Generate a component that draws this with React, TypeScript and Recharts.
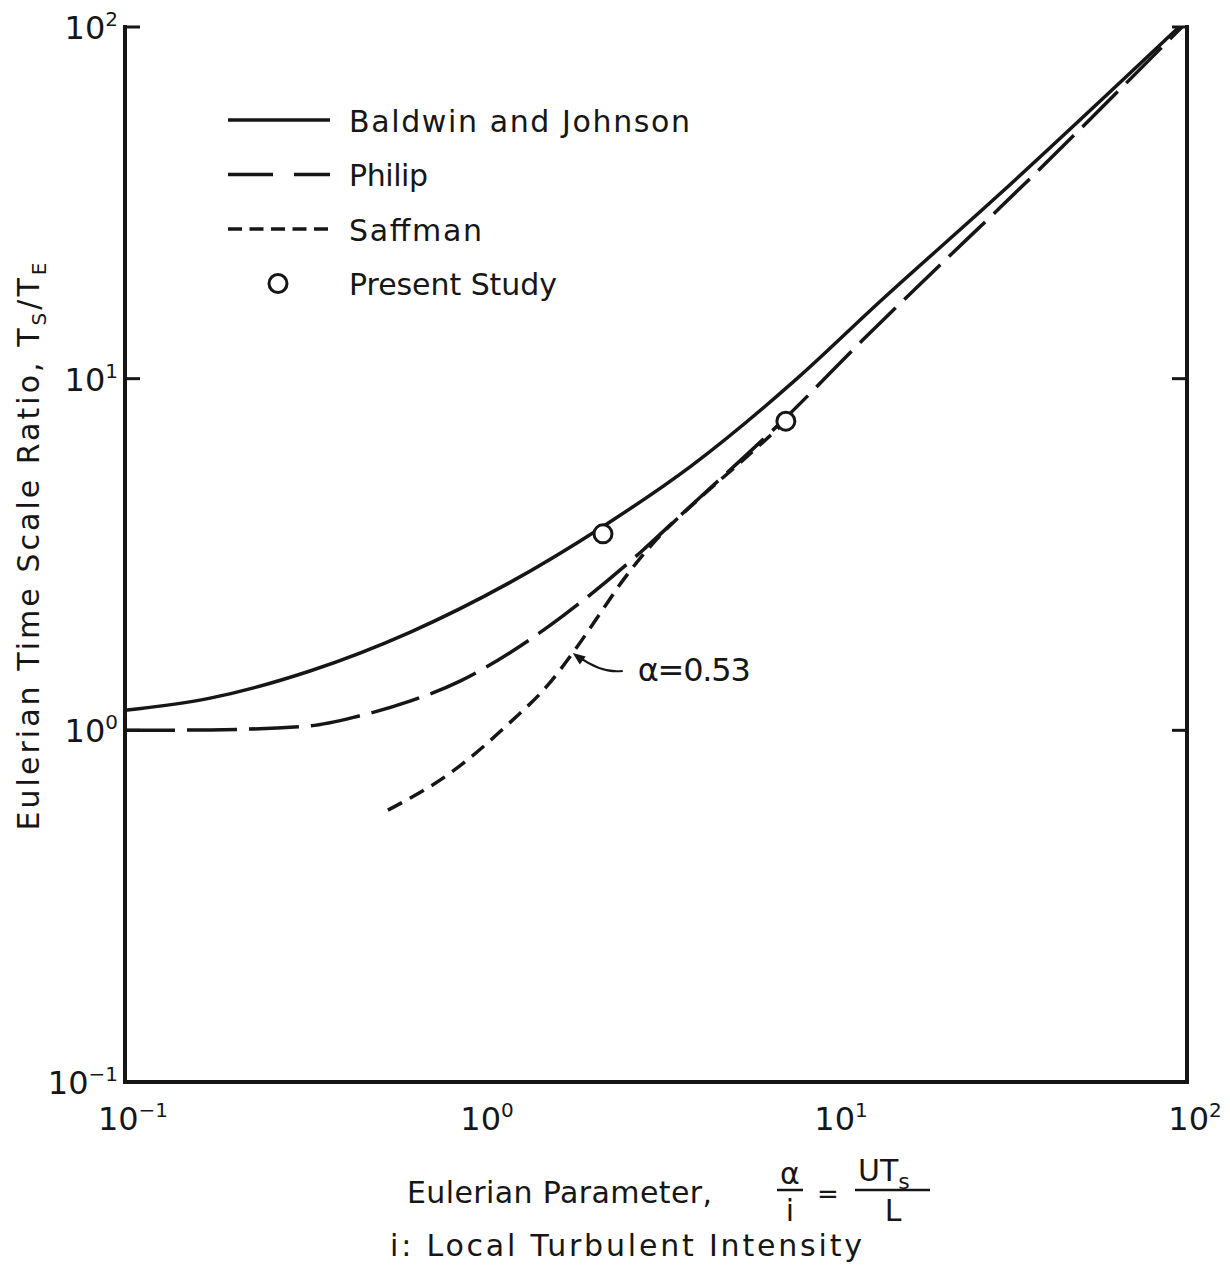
import React from "react";
import {
  ComposedChart,
  Line,
  Scatter,
  XAxis,
  YAxis,
  Legend,
  Label,
  ReferenceDot,
} from "recharts";

const INK = "#161616";
const FONT = "'DejaVu Sans', sans-serif";

// log-log decades shared by both axes
const decadeTicks = [0.1, 1, 10, 100];
const decadeLabels = ["\u22121", "0", "1", "2"];

// Baldwin and Johnson
const baldwinX = [0.1, 0.174, 0.333, 0.638, 1.22, 2.24, 3.98, 7.91, 13.6, 29.1, 95];
const baldwinY = [1.14, 1.235, 1.475, 1.9, 2.63, 3.8, 5.65, 10.0, 16.6, 33.0, 100];

// Philip
const philipX = [0.1, 0.174, 0.333, 0.461, 0.638, 0.884, 1.22, 1.73, 2.85, 3.77, 7.36, 12.15, 21.0, 29.6, 96.8];
const philipY = [1.0, 1.003, 1.03, 1.1, 1.21, 1.38, 1.66, 2.12, 3.2, 4.15, 7.75, 12.9, 22.0, 30.6, 100];

// Saffman, alpha = 0.53
const saffmanX = [0.553, 0.828, 1.22, 1.56, 1.84, 2.15, 2.55, 3.18, 4.13, 5.71, 7.3];
const saffmanY = [0.593, 0.755, 1.05, 1.34, 1.66, 2.08, 2.67, 3.5, 4.5, 6.0, 7.5];

// present study measurements
const studyX = [2.24, 7.36];
const studyY = [3.62, 7.57];

// index on the Saffman curve the alpha note points at
const ALPHA_AT = 4;

const zip = (xs: number[], ys: number[]) => xs.map((x, i) => ({ x, y: ys[i] }));

const baldwin = zip(baldwinX, baldwinY);
const philip = zip(philipX, philipY);
const saffman = zip(saffmanX, saffmanY);
const study = zip(studyX, studyY);

const decadeLabel = (v: number) => decadeLabels[decadeTicks.indexOf(v)] ?? "";

const LeftTick = (props: any) => {
  const { x, y, payload } = props;
  return (
    <g>
      <line x1={x} x2={x + 15} y1={y} y2={y} stroke={INK} strokeWidth={3} />
      <text x={x - 7} y={y + 12} textAnchor="end" fontFamily={FONT} fontSize={32} fill={INK}>
        10
        <tspan dy={-13} fontSize={20}>
          {decadeLabel(payload.value)}
        </tspan>
      </text>
    </g>
  );
};

const RightTick = (props: any) => {
  const { x, y } = props;
  return <line x1={x} x2={x - 15} y1={y} y2={y} stroke={INK} strokeWidth={3} />;
};

const BottomTick = (props: any) => {
  const { x, y, payload } = props;
  return (
    <text x={x + 8} y={y + 48} textAnchor="middle" fontFamily={FONT} fontSize={32} fill={INK}>
      10
      <tspan dy={-13} fontSize={20}>
        {decadeLabel(payload.value)}
      </tspan>
    </text>
  );
};

const YTitle = (props: any) => {
  const vb = props.viewBox;
  const cx = vb.x + 31;
  const cy = vb.y + vb.height / 2 - 8;
  return (
    <text
      x={cx}
      y={cy}
      transform={`rotate(-90 ${cx} ${cy})`}
      textAnchor="middle"
      fontFamily={FONT}
      fontSize={30}
      fill={INK}
      textLength={568}
      lengthAdjust="spacing"
    >
      Eulerian Time Scale Ratio, T
      <tspan dy={7} fontSize={20}>S</tspan>
      <tspan dy={-7}>/T</tspan>
      <tspan dy={7} fontSize={20}>E</tspan>
    </text>
  );
};

const XTitle = (props: any) => {
  const vb = props.viewBox;
  const x0 = vb.x;
  const y0 = vb.y;
  const txt = { fontFamily: FONT, fill: INK } as const;
  return (
    <g>
      <text x={x0 + 282} y={y0 + 121} fontSize={30} textLength={305} lengthAdjust="spacing" {...txt}>
        Eulerian Parameter,
      </text>
      {/* alpha / i */}
      <text x={x0 + 665} y={y0 + 102} fontSize={30} textAnchor="middle" {...txt}>α</text>
      <line x1={x0 + 652} x2={x0 + 678} y1={y0 + 108} y2={y0 + 108} stroke={INK} strokeWidth={2.5} />
      <text x={x0 + 665} y={y0 + 139} fontSize={30} textAnchor="middle" {...txt}>i</text>
      <text x={x0 + 703} y={y0 + 121} fontSize={26} textAnchor="middle" {...txt}>=</text>
      {/* U T_s / L */}
      <text x={x0 + 733} y={y0 + 99} fontSize={30} {...txt}>
        UT
        <tspan dy={8} fontSize={22}>s</tspan>
      </text>
      <line x1={x0 + 730} x2={x0 + 805} y1={y0 + 108} y2={y0 + 108} stroke={INK} strokeWidth={2.5} />
      <text x={x0 + 768} y={y0 + 139} fontSize={30} textAnchor="middle" {...txt}>L</text>
      <text x={x0 + 265} y={y0 + 174} fontSize={30} textLength={472} lengthAdjust="spacing" {...txt}>
        i:  Local Turbulent Intensity
      </text>
    </g>
  );
};

const AlphaNote = (props: any) => {
  const { cx, cy } = props;
  return (
    <g transform={`translate(${cx} ${cy})`}>
      <path d="M 50 18 C 36 20 20 14 6 4" fill="none" stroke={INK} strokeWidth={2} />
      <polygon points="0,0 13,3.5 7,11.5" fill={INK} />
      <text x={65} y={28} fontFamily={FONT} fontSize={32} fill={INK} textLength={113} lengthAdjust="spacing">
        α=0.53
      </text>
    </g>
  );
};

const legendItems = [
  { name: "Baldwin and Johnson", dash: undefined as string | undefined, width: 341 },
  { name: "Philip", dash: "45 21", width: 79 },
  { name: "Saffman", dash: "14 7.5", width: 133 },
  { name: "Present Study", dash: "marker", width: 208 },
];

const KeyBox = () => (
  <svg width={490} height={215}>
    {legendItems.map((item, i) => {
      const y = 25 + i * 54.5;
      return (
        <g key={item.name}>
          {item.dash === "marker" ? (
            <circle cx={58} cy={y} r={9} fill="#fff" stroke={INK} strokeWidth={3} />
          ) : (
            <line x1={8} x2={110} y1={y} y2={y} stroke={INK} strokeWidth={3.5} strokeDasharray={item.dash} />
          )}
          <text
            x={129}
            y={y + 11.5}
            fontFamily={FONT}
            fontSize={30}
            fill={INK}
            textLength={item.width}
            lengthAdjust="spacing"
          >
            {item.name}
          </text>
        </g>
      );
    })}
  </svg>
);

const frameLine = { stroke: INK, strokeWidth: 4, strokeLinecap: "square" as const };

export default function App() {
  return (
    <div style={{ width: 1214, height: 1257, background: "#fff" }}>
      <ComposedChart width={1214} height={1257} margin={{ top: 19, right: 0, bottom: 43, left: 0 }}>
        <XAxis
          dataKey="x"
          type="number"
          scale="log"
          domain={[0.1, 100]}
          allowDataOverflow
          ticks={decadeTicks}
          interval={0}
          tick={<BottomTick />}
          tickLine={false}
          tickSize={0}
          tickMargin={0}
          height={140}
          axisLine={frameLine}
        >
          <Label content={XTitle} />
        </XAxis>
        <XAxis
          xAxisId="top"
          orientation="top"
          type="number"
          scale="log"
          domain={[0.1, 100]}
          allowDataOverflow
          height={0}
          tick={false}
          tickLine={false}
          axisLine={frameLine}
        />
        <YAxis
          dataKey="y"
          type="number"
          scale="log"
          domain={[0.1, 100]}
          allowDataOverflow
          ticks={decadeTicks}
          interval={0}
          tick={<LeftTick />}
          tickLine={false}
          tickSize={0}
          tickMargin={0}
          width={117}
          axisLine={frameLine}
        >
          <Label content={YTitle} />
        </YAxis>
        <YAxis
          yAxisId="right"
          orientation="right"
          type="number"
          scale="log"
          domain={[0.1, 100]}
          allowDataOverflow
          ticks={decadeTicks}
          interval={0}
          tick={<RightTick />}
          tickLine={false}
          tickSize={0}
          tickMargin={0}
          width={35}
          axisLine={frameLine}
        />
        <Legend
          layout="vertical"
          align="center"
          verticalAlign="middle"
          content={() => <KeyBox />}
          wrapperStyle={{ top: 87, left: 212, width: 490, height: 215 }}
        />
        <Line
          data={baldwin}
          dataKey="y"
          name="Baldwin and Johnson"
          type="monotone"
          stroke={INK}
          strokeWidth={3.5}
          dot={false}
          isAnimationActive={false}
        />
        <Line
          data={philip}
          dataKey="y"
          name="Philip"
          type="monotone"
          stroke={INK}
          strokeWidth={3.5}
          strokeDasharray="50 12"
          dot={false}
          isAnimationActive={false}
        />
        <Line
          data={saffman}
          dataKey="y"
          name="Saffman"
          type="monotone"
          stroke={INK}
          strokeWidth={3.5}
          strokeDasharray="16 9"
          dot={false}
          isAnimationActive={false}
        />
        <Scatter
          data={study}
          dataKey="y"
          name="Present Study"
          isAnimationActive={false}
          shape={(p: any) => <circle cx={p.cx} cy={p.cy} r={9} fill="#fff" stroke={INK} strokeWidth={3} />}
        />
        <ReferenceDot
          x={saffmanX[ALPHA_AT]}
          y={saffmanY[ALPHA_AT]}
          r={0}
          ifOverflow="visible"
          shape={AlphaNote}
        />
      </ComposedChart>
    </div>
  );
}
